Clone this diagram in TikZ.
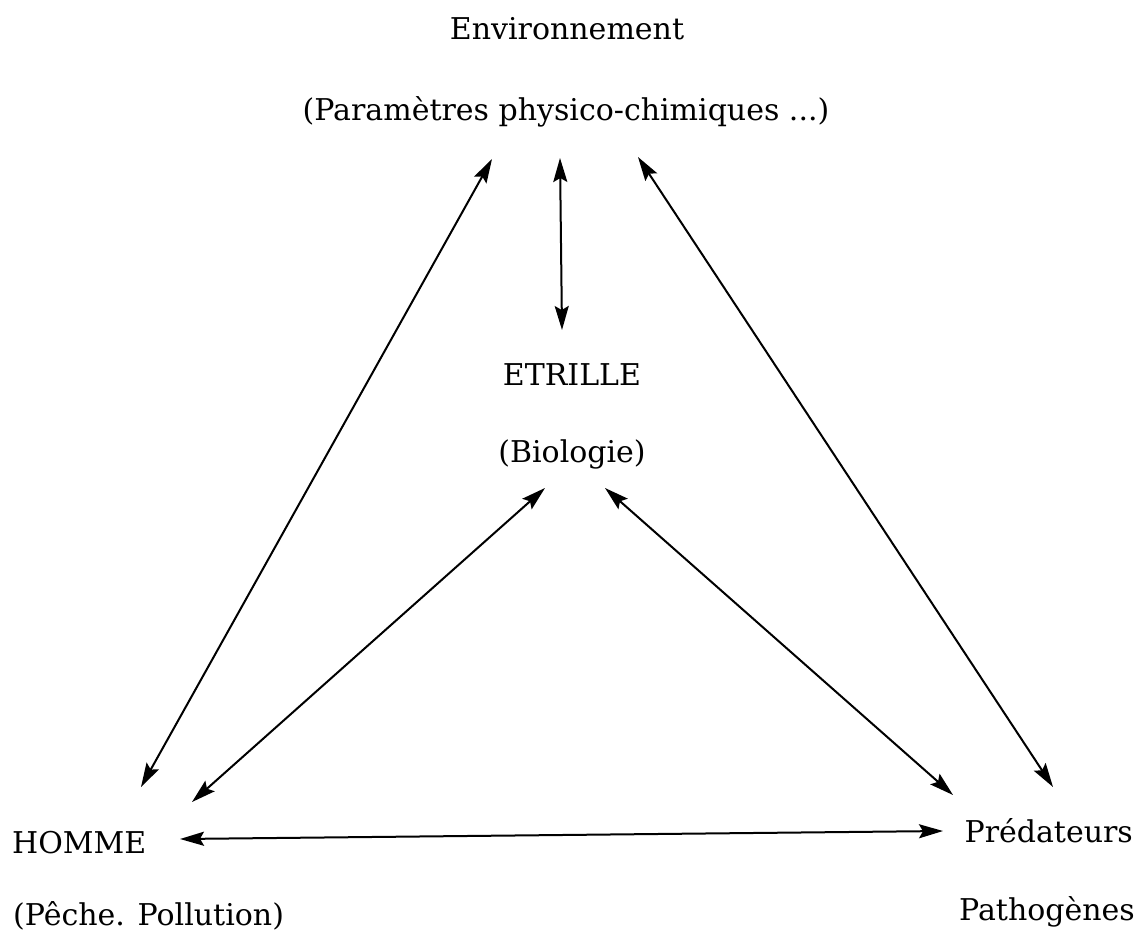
\documentclass[tikz,border=0pt]{standalone}
\usepackage{fontspec}
\setmainfont{DejaVu Serif}
\usetikzlibrary{arrows.meta}
\begin{document}
\begin{tikzpicture}[x=1pt,y=-1pt,
  lbl/.style={inner sep=0pt, font=\fontsize{30}{36}\selectfont},
  tip/.style={Stealth[length=24pt,width=14pt,inset=4pt]},
  link/.style={line width=2pt, {Stealth[length=24pt,width=14pt,inset=4pt]}-{Stealth[length=24pt,width=14pt,inset=4pt]}}]
\useasboundingbox[fill=white] (0,0) rectangle (1142,934);
% texts
\node[lbl, anchor=base] (env1) at (567,40) {Environnement};
\node[lbl, anchor=base] (env2) at (566,120) {(Paramètres physico-chimiques ...)};
\node[lbl, anchor=base] (etr1) at (572,385) {ETRILLE};
\node[lbl, anchor=base] (etr2) at (572,462) {(Biologie)};
\node[lbl, anchor=base west] (hom1) at (12,853) {HOMME};
\node[lbl, anchor=base west] (hom2) at (13,925) {(Pêche. Pollution)};
\node[lbl, anchor=base east] (pred1) at (1133,842) {Prédateurs};
\node[lbl, anchor=base east] (pred2) at (1135,920) {Pathogènes};
% arrow ends
\coordinate (eL) at (492,159);
\coordinate (eM) at (560,158);
\coordinate (eR) at (638,157);
\coordinate (bT) at (562,330);
\coordinate (bL) at (545,488);
\coordinate (bR) at (605,488);
\coordinate (hA) at (141,787);
\coordinate (hB) at (192,802);
\coordinate (hC) at (180,839);
\coordinate (pA) at (1053,787);
\coordinate (pB) at (953,795);
\coordinate (pC) at (943,831);
% connectors
\draw[link] (eM) -- (bT);
\draw[link] (eL) -- (hA);
\draw[link] (eR) -- (pA);
\draw[link] (bL) -- (hB);
\draw[link] (bR) -- (pB);
\draw[link] (hC) -- (pC);
\end{tikzpicture}
\end{document}
